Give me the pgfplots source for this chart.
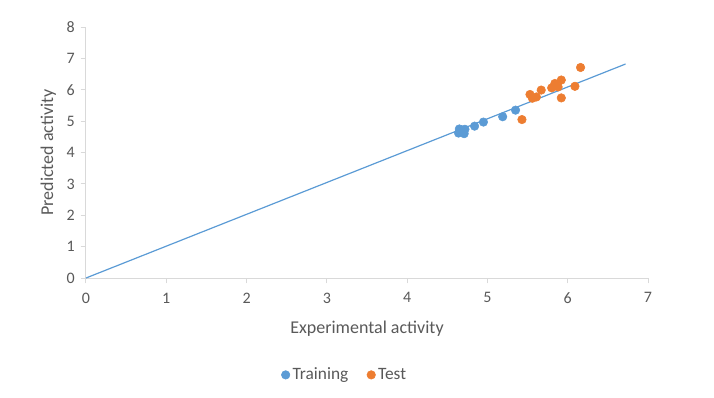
\documentclass[border=0pt]{standalone}
\usepackage{pgfplots}
\pgfplotsset{compat=1.18}
\usepackage{fontspec}
\setmainfont{Carlito}
\definecolor{xblue}{HTML}{5B9BD5}
\definecolor{xorange}{HTML}{ED7D31}
\definecolor{axgray}{HTML}{D9D9D9}
\definecolor{txtgray}{HTML}{595959}
\begin{document}
\begin{tikzpicture}[x=1pt,y=1pt]
\useasboundingbox (-64.5,-89.25) rectangle (471,208.5);
\begin{axis}[
  anchor=south west, at={(0,0)},
  scale only axis, width=421.5pt, height=188.25pt,
  xmin=0, xmax=7, ymin=0, ymax=8,
  xtick={0,...,7}, ytick={0,...,8},
  axis x line*=bottom, axis y line*=left,
  axis line style={axgray, line width=0.75pt, -},
  tick style={axgray, line width=0.75pt},
  tick align=outside, major tick length=4pt,
  ticklabel style={font=\fontsize{12}{14}\selectfont, text=txtgray},
  xticklabel style={yshift=-3.5pt},
  yticklabel style={xshift=-1pt},
  /pgf/number format/assume math mode=true,
  xlabel={Experimental activity}, ylabel={Predicted activity},
  label style={font=\fontsize{13.5}{15}\selectfont, text=txtgray},
  xlabel style={yshift=-6pt},
  ylabel style={yshift=1pt},
  legend columns=2,
  legend style={draw=none, font=\fontsize{13}{15}\selectfont, text=txtgray,
    at={(rel axis cs:0.461,-0.386)}, anchor=center,
    /tikz/every even column/.append style={column sep=12pt}},
  legend image code/.code={\draw[#1, mark size=3.2pt] plot coordinates {(0pt,0pt)};},
]
\addplot[only marks, mark=*, mark size=3.2pt, color=xblue, mark options={draw=xblue, fill=xblue}] coordinates {
(4.64,4.62) (4.66,4.68) (4.68,4.72) (4.70,4.66) (4.72,4.74) (4.67,4.70) (4.65,4.75) (4.71,4.60)
(4.84,4.84) (4.95,4.97) (5.19,5.14) (5.35,5.35)
};
\addlegendentry{Training}
\addplot[only marks, mark=*, mark size=3.2pt, color=xorange, mark options={draw=xorange, fill=xorange}] coordinates {
(5.43,5.05) (5.53,5.85) (5.56,5.73) (5.61,5.77) (5.67,5.99) (5.80,6.06)
(5.84,6.20) (5.88,6.09) (5.92,6.31) (5.92,5.74) (6.09,6.11) (6.16,6.71)
};
\addlegendentry{Test}
\addplot[xblue, line width=0.9pt, forget plot] coordinates {(0,0) (6.72,6.82)};
\end{axis}
\end{tikzpicture}
\end{document}
